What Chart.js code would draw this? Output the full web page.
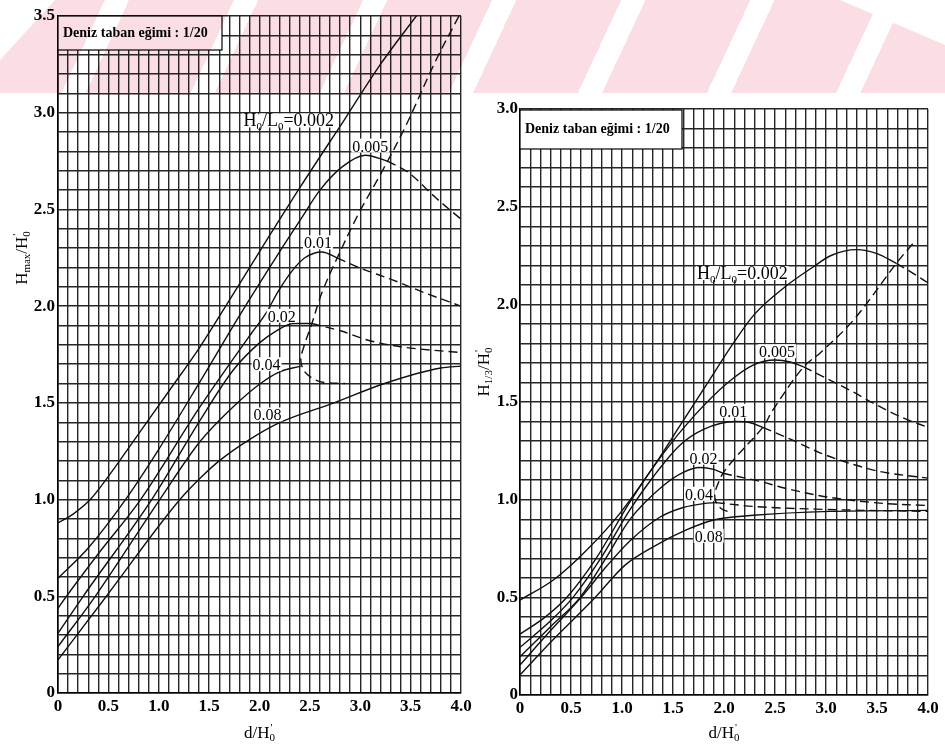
<!DOCTYPE html>
<html>
<head>
<meta charset="utf-8">
<script src="https://cdn.jsdelivr.net/npm/chart.js@4.4.1/dist/chart.umd.min.js"></script>
<style>
  body { margin: 0; background: #fff; }
  #wrap { position: relative; width: 945px; height: 747px; overflow: hidden; }
  #left { position: absolute; left: 0; top: 0; }
  #right { position: absolute; left: 470px; top: 0; }
  #mark {
    position: absolute; left: 0; top: 0; width: 945px; height: 93px;
    pointer-events: none; mix-blend-mode: multiply;
    background: repeating-linear-gradient(115deg, rgb(250,222,228) 0 95px, rgb(255,255,255) 95px 117px);
    clip-path: polygon(0 93px, 945px 93px, 945px 45px, 840px 0, 55px 0, 0 60px);
  }
</style>
</head>
<body>
<div id="wrap">
  <canvas id="left" width="490" height="747"></canvas>
  <canvas id="right" width="475" height="747"></canvas>
  <div id="mark"></div>
</div>
<script>
const xTickLabels = ['0', '0.5', '1.0', '1.5', '2.0', '2.5', '3.0', '3.5', '4.0'];
const yTickLabelsMax = ['0', '0.5', '1.0', '1.5', '2.0', '2.5', '3.0', '3.5'];
const yTickLabelsSig = ['0', '0.5', '1.0', '1.5', '2.0', '2.5', '3.0'];
const steepLabels = ['0.002', '0.005', '0.01', '0.02', '0.04', '0.08'];

// H_max / H0' , slope 1/20  ([d/H0', value])
const hmax002 = [[0, 0.88], [0.15, 0.925], [0.32, 1.0], [0.5, 1.12], [0.8, 1.34], [1.1, 1.56], [1.41, 1.79], [1.7, 2.03], [2.01, 2.29], [2.41, 2.62], [2.85, 2.97], [3.2, 3.25], [3.6, 3.53]];
const hmax005 = [[0, 0.593], [0.3, 0.75], [0.67, 1.0], [1.0, 1.26], [1.41, 1.61], [1.8, 1.95], [2.21, 2.29], [2.41, 2.45], [2.6, 2.6], [2.82, 2.72], [3.05, 2.78], [3.27, 2.75]];
const hmax005b = [[3.27, 2.75], [3.48, 2.69], [3.75, 2.56], [4.0, 2.45]];
const hmax01 = [[0, 0.438], [0.07, 0.49], [0.4, 0.72], [0.82, 1.0], [1.41, 1.48], [1.92, 1.86], [2.06, 1.96], [2.19, 2.08], [2.32, 2.18], [2.45, 2.25], [2.62, 2.28], [2.77, 2.25]];
const hmax01b = [[2.77, 2.25], [2.985, 2.2], [3.32, 2.136], [3.65, 2.067], [4.0, 2.0]];
const hmax02 = [[0, 0.309], [0.25, 0.5], [0.93, 1.0], [1.41, 1.41], [1.74, 1.67], [2.0, 1.81], [2.16, 1.87], [2.34, 1.91], [2.52, 1.91]];
const hmax02b = [[2.52, 1.91], [2.82, 1.87], [3.07, 1.825], [3.4, 1.79], [4.0, 1.76]];
const hmax04 = [[0, 0.24], [0.37, 0.5], [1.01, 1.0], [1.41, 1.30], [1.74, 1.48], [2.01, 1.60], [2.2, 1.66], [2.41, 1.69]];
const hmax08 = [[0, 0.171], [0.48, 0.5], [1.21, 1.0], [1.41, 1.11], [1.6, 1.2], [1.9, 1.31], [2.21, 1.4], [2.74, 1.5], [3.24, 1.6], [3.8, 1.68], [4.0, 1.69]];
const hmaxLimit = [[3.98, 3.5], [3.75, 3.27], [3.45, 2.93], [3.22, 2.70], [2.985, 2.48], [2.79, 2.27], [2.62, 2.07], [2.52, 1.91], [2.44, 1.79], [2.41, 1.72], [2.45, 1.66], [2.55, 1.62], [2.65, 1.605], [2.85, 1.6]];
const hmaxLabelAt = [[2.29, 2.96], [3.1, 2.83], [2.58, 2.33], [2.22, 1.95], [2.07, 1.7], [2.08, 1.44]];

// H_1/3 / H0' , slope 1/20
const hsig002 = [[0, 0.486], [0.33, 0.59], [0.65, 0.74], [0.98, 0.93], [1.31, 1.17], [1.57, 1.38], [1.83, 1.59], [2.09, 1.8], [2.3, 1.95], [2.6, 2.09], [2.87, 2.19], [3.05, 2.25], [3.3, 2.28], [3.5, 2.26], [3.69, 2.21]];
const hsig002b = [[3.69, 2.21], [3.85, 2.16], [4.0, 2.11]];
const hsig005 = [[0, 0.312], [0.25, 0.4], [0.46, 0.5], [0.735, 0.69], [1.08, 0.99], [1.405, 1.237], [1.7, 1.425], [2.03, 1.596], [2.29, 1.69], [2.5, 1.715], [2.65, 1.705], [2.78, 1.68]];
const hsig005b = [[2.78, 1.68], [2.97, 1.63], [3.27, 1.55], [3.46, 1.495], [3.75, 1.42], [4.0, 1.37]];
const hsig01 = [[0, 0.244], [0.3, 0.38], [0.52, 0.5], [0.78, 0.69], [1.08, 0.95], [1.31, 1.12], [1.57, 1.28], [1.8, 1.36], [2.11, 1.4], [2.25, 1.395], [2.38, 1.37]];
const hsig01b = [[2.38, 1.37], [2.65, 1.31], [2.94, 1.24], [3.27, 1.18], [3.53, 1.144], [4.0, 1.11]];
const hsig02 = [[0, 0.196], [0.3, 0.35], [0.59, 0.5], [0.83, 0.69], [1.08, 0.9], [1.4, 1.07], [1.6, 1.14], [1.76, 1.165], [1.9, 1.155], [1.99, 1.135]];
const hsig02b = [[1.99, 1.135], [2.38, 1.09], [2.55, 1.065], [2.94, 1.02], [3.2, 1.0], [3.59, 0.98], [4.0, 0.97]];
const hsig04 = [[0, 0.154], [0.3, 0.33], [0.6, 0.5], [0.85, 0.66], [1.08, 0.79], [1.37, 0.91], [1.6, 0.96], [1.8, 0.98], [1.92, 0.985]];
const hsig04b = [[1.92, 0.985], [2.3, 0.965], [3.0, 0.95], [4.0, 0.94]];
const hsig08 = [[0, 0.102], [0.3, 0.27], [0.72, 0.49], [1.03, 0.665], [1.31, 0.76], [1.63, 0.845], [1.9, 0.896], [2.29, 0.92], [3.04, 0.94], [4.0, 0.945]];
const hsigLimit = [[3.85, 2.31], [3.69, 2.21], [3.27, 1.92], [2.94, 1.75], [2.78, 1.68], [2.48, 1.46], [2.38, 1.37], [2.12, 1.22], [1.99, 1.135], [1.94, 1.08], [1.91, 1.03], [1.92, 0.99], [1.97, 0.955], [2.06, 0.935]];
const hsigLabelAt = [[2.18, 2.16], [2.52, 1.76], [2.09, 1.455], [1.8, 1.215], [1.755, 1.03], [1.85, 0.815]];

const serif = '"Liberation Serif", "Times New Roman", serif';

function curve(pts, dashed, smooth) {
  return {
    data: pts.map(p => ({ x: p[0], y: p[1] })),
    borderColor: '#111',
    borderWidth: 1.4,
    borderDash: dashed ? [9, 5] : [],
    pointRadius: 0,
    fill: false,
    tension: smooth ? 0.35 : 0.4,
    cubicInterpolationMode: smooth ? 'default' : 'monotone'
  };
}

function tickText(v, labels) {
  const i = Math.round(v * 10);
  return i % 5 === 0 ? labels[i / 5] : '';
}

// text with sub/superscripts: [text, 'n' | 'sub' | 'subp']
function richWidth(ctx, parts, size) {
  const small = Math.round(size * 0.62);
  return parts.map(([t, k]) => {
    ctx.font = (k === 'n' ? size : small) + 'px ' + serif;
    return ctx.measureText(t).width;
  });
}

function drawRich(ctx, parts, x, y, size, align) {
  const small = Math.round(size * 0.62);
  const w = richWidth(ctx, parts, size);
  const total = w.reduce((a, b) => a + b, 0);
  let cx = align === 'center' ? x - total / 2 : x;
  ctx.textAlign = 'left';
  ctx.textBaseline = 'alphabetic';
  parts.forEach(([t, k], i) => {
    ctx.font = (k === 'n' ? size : small) + 'px ' + serif;
    if (k === 'n') ctx.fillText(t, cx, y);
    else ctx.fillText(t, cx, y + size * 0.2);
    if (k === 'subp') ctx.fillText("'", cx + 1, y - size * 0.42);
    cx += w[i];
  });
  return total;
}

const overlay = {
  id: 'overlay',
  afterDatasetsDraw(chart, args, o) {
    const { ctx, chartArea: a, scales } = chart;
    ctx.save();
    // steepness labels on white patches
    o.labels.forEach((lab, i) => {
      const px = scales.x.getPixelForValue(o.at[i][0]);
      const py = scales.y.getPixelForValue(o.at[i][1]);
      const size = i === 0 ? 18 : 16;
      const parts = i === 0 ? o.first.concat([[lab, 'n']]) : [[lab, 'n']];
      const tw = richWidth(ctx, parts, size).reduce((s, v) => s + v, 0);
      ctx.fillStyle = '#fff';
      ctx.fillRect(px - tw / 2 - 1, py - 7, tw + 2, 14);
      ctx.fillStyle = '#000';
      drawRich(ctx, parts, px, py + 6, size, 'center');
    });
    // title box
    ctx.fillStyle = '#fff';
    ctx.fillRect(a.left, a.top + o.box[1], o.box[2], o.box[3]);
    ctx.strokeStyle = '#000';
    ctx.lineWidth = 1.2;
    ctx.strokeRect(a.left, a.top + o.box[1], o.box[2], o.box[3]);
    ctx.fillStyle = '#000';
    ctx.font = 'bold 14px ' + serif;
    ctx.textAlign = 'left';
    ctx.textBaseline = 'middle';
    ctx.fillText('Deniz taban eğimi : 1/20', a.left + 5, a.top + o.box[1] + o.box[3] / 2);
    // axis titles
    drawRich(ctx, [['d/H', 'n'], ['0', 'subp']], (a.left + a.right) / 2, 738, 17, 'center');
    ctx.translate(o.yTitle[0], o.yTitle[1]);
    ctx.rotate(-Math.PI / 2);
    drawRich(ctx, o.yParts, 0, 0, 17, 'center');
    ctx.restore();
  }
};

function axisOpts(max, labels, size, pad) {
  return {
    type: 'linear', min: 0, max: max,
    afterFit: s => { if (s.isHorizontal()) s.height = size; else s.width = size; },
    ticks: {
      stepSize: 0.1, autoSkip: false, maxRotation: 0, padding: pad, color: '#000',
      font: { family: serif, size: 17, weight: 'bold' },
      callback: v => tickText(v, labels)
    },
    grid: { color: '#262626', lineWidth: 1.4, drawTicks: false },
    border: { color: '#000', width: 1.6 }
  };
}

new Chart(document.getElementById('left'), {
  type: 'line',
  data: {
    datasets: [
      curve(hmax002), curve(hmax005), curve(hmax005b, true), curve(hmax01), curve(hmax01b, true),
      curve(hmax02), curve(hmax02b, true), curve(hmax04), curve(hmax08), curve(hmaxLimit, true, true)
    ]
  },
  options: {
    responsive: false, animation: false,
    layout: { padding: { top: 16, right: 29, left: 0, bottom: 0 } },
    plugins: {
      legend: { display: false }, tooltip: { enabled: false },
      overlay: {
        labels: steepLabels, at: hmaxLabelAt,
        first: [['H', 'n'], ['0', 'subp'], ['/L', 'n'], ['0', 'sub'], ['=', 'n']],
        box: [0, 0, 164, 34],
        yTitle: [27, 258],
        yParts: [['H', 'n'], ['max', 'sub'], ['/H', 'n'], ['0', 'subp']]
      }
    },
    scales: { x: axisOpts(4, xTickLabels, 54, 3), y: axisOpts(3.5, yTickLabelsMax, 58, 3) }
  },
  plugins: [overlay]
});

new Chart(document.getElementById('right'), {
  type: 'line',
  data: {
    datasets: [
      curve(hsig002), curve(hsig002b, true), curve(hsig005), curve(hsig005b, true), curve(hsig01), curve(hsig01b, true),
      curve(hsig02), curve(hsig02b, true), curve(hsig04), curve(hsig04b, true), curve(hsig08), curve(hsigLimit, true, true)
    ]
  },
  options: {
    responsive: false, animation: false,
    layout: { padding: { top: 109, right: 17, left: 0, bottom: 0 } },
    plugins: {
      legend: { display: false }, tooltip: { enabled: false },
      overlay: {
        labels: steepLabels, at: hsigLabelAt,
        first: [['H', 'n'], ['0', 'sub'], ['/L', 'n'], ['0', 'sub'], ['=', 'n']],
        box: [0, 1, 162, 39],
        yTitle: [19, 372],
        yParts: [['H', 'n'], ['1/3', 'sub'], ['/H', 'n'], ['0', 'subp']]
      }
    },
    scales: { x: axisOpts(4, xTickLabels, 52, 3), y: axisOpts(3, yTickLabelsSig, 50, 2) }
  },
  plugins: [overlay]
});
</script>
</body>
</html>
